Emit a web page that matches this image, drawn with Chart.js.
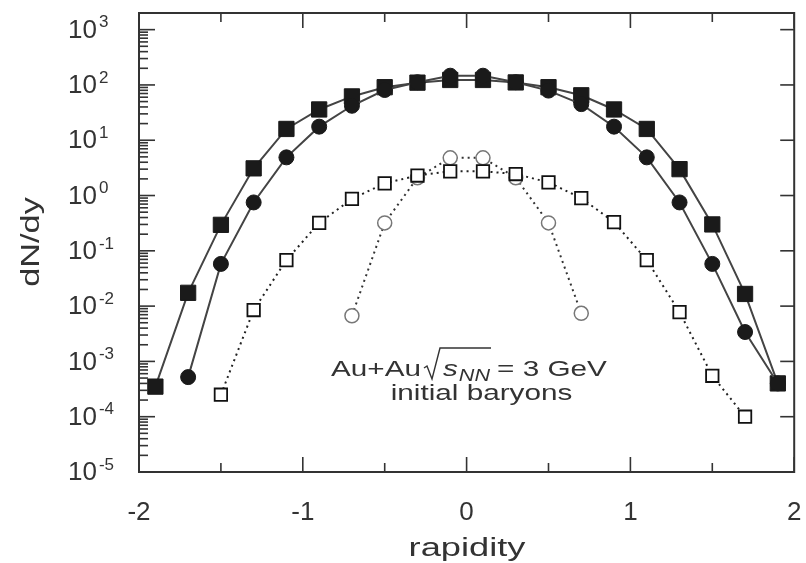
<!DOCTYPE html>
<html>
<head>
<meta charset="utf-8">
<script src="https://cdn.jsdelivr.net/npm/chart.js@4.4.1/dist/chart.umd.min.js"></script>
<style>
body{margin:0;background:#fff;}
canvas{display:block;}
</style>
</head>
<body>
<canvas id="dndy" width="806" height="563"></canvas>
<script>
// rapidity bins
const ySquares = [-1.9,-1.7,-1.5,-1.3,-1.1,-0.9,-0.7,-0.5,-0.3,-0.1,0.1,0.3,0.5,0.7,0.9,1.1,1.3,1.5,1.7,1.9];
const yCircles = [-1.7,-1.5,-1.3,-1.1,-0.9,-0.7,-0.5,-0.3,-0.1,0.1,0.3,0.5,0.7,0.9,1.1,1.3,1.5,1.7,1.9];
const yOpenSquares = [-1.5,-1.3,-1.1,-0.9,-0.7,-0.5,-0.3,-0.1,0.1,0.3,0.5,0.7,0.9,1.1,1.3,1.5,1.7];
const yOpenCircles = [-0.7,-0.5,-0.3,-0.1,0.1,0.3,0.5,0.7];

// dN/dy
const dndySquares = [3.5e-4,0.0174,0.295,3.1,16,36,62,91,110,123,123,111,91,65,36,16,3.0,0.30,0.0166,4.0e-4];
const dndyCircles = [5.2e-4,0.058,0.75,4.9,17.6,42,81,112,147,147,112,79,45,17.6,4.9,0.75,0.058,3.4e-3,4.0e-4];
const dndyOpenSquares = [2.5e-4,0.0085,0.068,0.32,0.87,1.66,2.3,2.74,2.74,2.45,1.73,0.9,0.33,0.068,0.0078,5.5e-4,1.0e-4];
const dndyOpenCircles = [0.0067,0.32,2.1,4.8,4.8,2.1,0.32,0.0074];

// axis ticks
const xTicks = [-2,-1.5,-1,-0.5,0,0.5,1,1.5,2];
const xLabels = [-2,-1,0,1,2];
const yExponents = [-5,-4,-3,-2,-1,0,1,2,3];

const FONT = '"Liberation Sans", Arial, sans-serif';

function pts(xs, ys){
  return xs.map((x,i)=>({x:x, y:ys[i]}));
}

function line(ctx,x1,y1,x2,y2){
  ctx.beginPath();
  ctx.moveTo(x1,y1);
  ctx.lineTo(x2,y2);
  ctx.stroke();
}

// text widened horizontally, returns drawn width
function wide(ctx, s, x, y, sx){
  ctx.save();
  ctx.translate(x,y);
  ctx.scale(sx,1);
  ctx.fillText(s,0,0);
  ctx.restore();
  return ctx.measureText(s).width*sx;
}

const frame = {
  id:'frame',
  afterDraw(chart){
    const ctx = chart.ctx;
    const a = chart.chartArea;
    const x = chart.scales.x, y = chart.scales.y;
    ctx.save();
    ctx.strokeStyle = '#333';
    ctx.lineWidth = 2;
    ctx.strokeRect(a.left,a.top,a.right-a.left,a.bottom-a.top);

    ctx.lineWidth = 1.6;
    xTicks.forEach(v=>{
      const px = x.getPixelForValue(v);
      const len = Number.isInteger(v) ? 15 : 9;
      line(ctx,px,a.bottom,px,a.bottom-len);
      line(ctx,px,a.top,px,a.top+len);
    });

    yExponents.forEach(e=>{
      const py = y.getPixelForValue(Math.pow(10,e));
      line(ctx,a.left,py,a.left+16,py);
      line(ctx,a.right,py,a.right-14,py);
      if(e<3){
        for(let m=2;m<=9;m++){
          const pm = y.getPixelForValue(m*Math.pow(10,e));
          line(ctx,a.left,pm,a.left+9,pm);
        }
      }
    });

    // tick labels
    ctx.fillStyle = '#333';
    ctx.font = '26px ' + FONT;
    ctx.textAlign = 'center';
    ctx.textBaseline = 'alphabetic';
    xLabels.forEach(v=>{
      ctx.fillText(String(v), x.getPixelForValue(v), 520);
    });

    ctx.textAlign = 'left';
    ctx.textBaseline = 'middle';
    yExponents.forEach(e=>{
      const py = y.getPixelForValue(Math.pow(10,e));
      ctx.font = '26px ' + FONT;
      ctx.fillText('10', 68, py+1);
      const w = ctx.measureText('10').width;
      ctx.font = '17px ' + FONT;
      ctx.fillText(String(e), 68+w+2, py-7);
    });

    // axis titles
    ctx.font = '25px ' + FONT;
    ctx.textBaseline = 'alphabetic';
    let w = ctx.measureText('rapidity').width*1.45;
    wide(ctx,'rapidity', 467 - w/2, 556, 1.45);

    ctx.save();
    ctx.translate(39, 242);
    ctx.rotate(-Math.PI/2);
    ctx.font = '26px ' + FONT;
    w = ctx.measureText('dN/dy').width*1.32;
    wide(ctx,'dN/dy', -w/2, 0, 1.32);
    ctx.restore();

    // collision system label
    const sx = 1.35;
    const base = 376;
    ctx.font = '22px ' + FONT;
    let cx = 331;
    cx += wide(ctx,'Au+Au', cx, base, sx) + 3;
    // square root sign over s_NN
    const rootX = cx;
    cx += 19;
    ctx.font = 'italic 22px ' + FONT;
    cx += wide(ctx,'s', cx, base, sx) + 1;
    ctx.font = 'italic 16px ' + FONT;
    cx += wide(ctx,'NN', cx, base+5, sx) + 4;
    ctx.lineWidth = 1.4;
    ctx.beginPath();
    ctx.moveTo(rootX, base-8);
    ctx.lineTo(rootX+3, base-10);
    ctx.lineTo(rootX+8, base+3);
    ctx.lineTo(rootX+16, base-28);
    ctx.lineTo(cx-3, base-28);
    ctx.stroke();
    cx += 3;
    ctx.font = '22px ' + FONT;
    wide(ctx,'= 3 GeV', cx, base, sx);

    w = ctx.measureText('initial baryons').width*sx;
    wide(ctx,'initial baryons', 481.5 - w/2, 400, sx);
    ctx.restore();
  }
};

new Chart(document.getElementById('dndy'), {
  type:'line',
  data:{
    datasets:[
      {
        data:pts(yOpenSquares, dndyOpenSquares),
        order:0,
        borderColor:'#222',
        borderWidth:2,
        borderDash:[2,4],
        pointStyle:'rect',
        pointRadius:8.8,
        pointBorderWidth:1.8,
        pointBorderColor:'#111',
        pointBackgroundColor:'#fff'
      },
      {
        data:pts(yOpenCircles, dndyOpenCircles),
        order:1,
        borderColor:'#333',
        borderWidth:2,
        borderDash:[2,4],
        pointStyle:'circle',
        pointRadius:7,
        pointBorderWidth:1.5,
        pointBorderColor:'#777',
        pointBackgroundColor:'#fff'
      },
      {
        data:pts(yCircles, dndyCircles),
        order:2,
        borderColor:'#444',
        borderWidth:2,
        pointStyle:'circle',
        pointRadius:7.5,
        pointBorderWidth:1,
        pointBorderColor:'#1a1a1a',
        pointBackgroundColor:'#1a1a1a'
      },
      {
        data:pts(ySquares, dndySquares),
        order:3,
        borderColor:'#444',
        borderWidth:2,
        pointStyle:'rect',
        pointRadius:10.8,
        pointBorderWidth:1,
        pointBorderColor:'#1a1a1a',
        pointBackgroundColor:'#1a1a1a'
      }
    ]
  },
  options:{
    responsive:false,
    animation:false,
    events:[],
    layout:{padding:{left:139,right:11,top:13,bottom:91}},
    plugins:{legend:{display:false},tooltip:{enabled:false}},
    elements:{line:{tension:0}},
    scales:{
      x:{type:'linear',min:-2,max:2,display:false},
      y:{type:'logarithmic',min:1e-5,max:2000,display:false}
    }
  },
  plugins:[frame]
});
</script>
</body>
</html>
